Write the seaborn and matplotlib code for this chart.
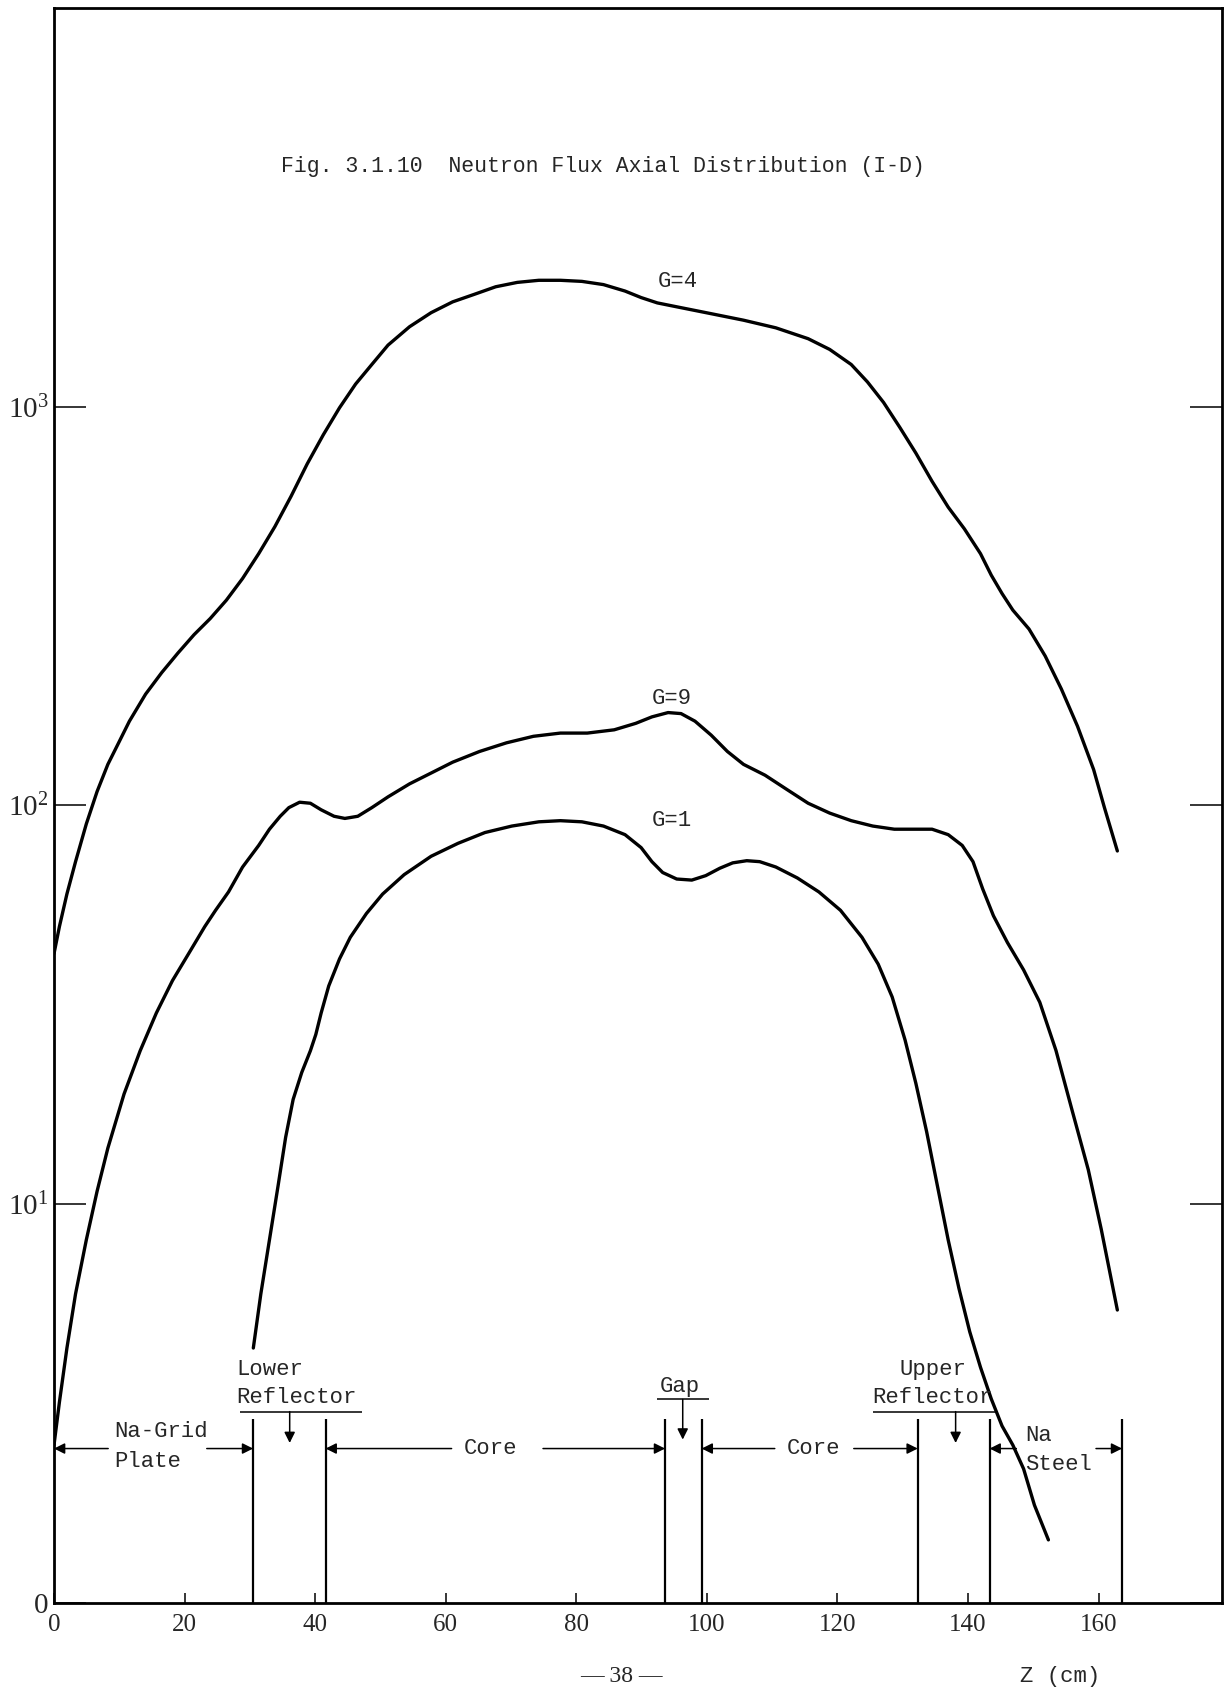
import matplotlib
matplotlib.use('Agg')
import matplotlib.pyplot as plt
import numpy as np
import pandas as pd
import seaborn as sns

# Axial position z (cm) and neutron flux
z_g4 = [0, 0.83, 1.98, 3.30, 4.95, 6.60, 8.25, 9.90, 11.55, 14.03, 16.50, 18.98,
        21.45, 23.93, 26.40, 28.88, 31.35, 33.83, 36.30, 38.78, 41.25, 43.73,
        46.20, 48.68, 51.16, 54.46, 57.76, 61.06, 64.36, 67.66, 70.96, 74.26,
        77.56, 80.86, 84.16, 87.46, 89.93, 92.41, 95.71, 100.66, 105.61, 110.56,
        115.51, 118.81, 122.11, 124.59, 127.06, 129.54, 132.01, 134.49, 136.96,
        139.44, 141.91, 143.56, 145.21, 146.86, 149.34, 151.82, 154.29, 156.77,
        159.24, 160.89, 162.87]
flux_g4 = [42.5, 49.7, 60.0, 72.3, 89.9, 108.4, 126.8, 143.6, 162.7, 190.2, 215.4,
           241.1, 268.1, 294.3, 327.2, 370.8, 428.0, 500.3, 595.7, 718.6, 850.4,
           993.8, 1140, 1276, 1427, 1587, 1721, 1832, 1913, 1999, 2050, 2075,
           2075, 2062, 2024, 1950, 1878, 1821, 1776, 1711, 1648, 1577,
           1481, 1392, 1276, 1154, 1025, 888, 765, 650, 560,
           494, 428, 378, 340, 309, 277, 237, 196, 158,
           123, 98.8, 76.9]

z_g9 = [0, 0.83, 1.98, 3.30, 4.95, 6.60, 8.25, 10.73, 13.20, 15.68, 18.15, 20.63,
        23.10, 24.75, 26.73, 28.88, 31.35, 33.00, 34.65, 35.97, 37.62, 39.27,
        40.92, 42.90, 44.55, 46.53, 48.68, 51.16, 54.46, 57.76, 61.06, 65.18,
        69.31, 73.43, 77.56, 81.68, 85.81, 89.11, 91.58, 94.06, 96.04, 98.18,
        100.66, 103.14, 105.61, 108.91, 112.21, 115.51, 118.81, 122.11, 125.41,
        128.71, 132.01, 134.49, 136.96, 139.11, 140.76, 142.24, 143.89, 146.04,
        148.51, 150.99, 153.47, 155.94, 158.42, 160.40, 161.72, 162.87]
flux_g9 = [2.49, 3.19, 4.36, 5.96, 8.14, 10.78, 13.83, 18.90, 24.26, 30.18, 36.39,
           42.53, 49.71, 54.60, 60.70, 70.07, 79.39, 87.2, 93.96, 98.76, 101.9,
           101.3, 97.54, 93.96, 92.8, 93.96, 98.76, 105.1, 113.3, 120.6, 128.4,
           136.6, 143.6, 149.1, 151.9, 151.9, 154.8, 160.7, 166.8, 171.0, 170.0,
           162.7, 150.1, 136.6, 126.8, 119.1, 109.8, 101.3, 95.7, 91.6, 88.8,
           87.2, 87.2, 87.2, 84.5, 79.4, 72.3, 61.8, 52.9, 45.3,
           38.7, 32.1, 24.3, 17.2, 12.2, 8.66, 6.75, 5.43]

z_g1 = [30.53, 31.68, 33.00, 34.32, 35.48, 36.63, 37.95, 39.27, 40.10, 40.92,
        42.08, 43.73, 45.38, 47.85, 50.33, 53.63, 57.76, 61.88, 66.01, 70.13,
        74.26, 77.56, 80.86, 84.16, 87.46, 89.93, 91.58, 93.23, 95.38, 97.69,
        99.83, 101.98, 103.96, 106.11, 108.09, 110.56, 113.86, 117.16, 120.46,
        123.76, 126.24, 128.38, 130.36, 132.01, 133.66, 135.31, 136.96, 138.61,
        140.26, 141.91, 143.56, 145.21, 146.86, 148.51, 150.17, 152.31]
flux_g1 = [4.36, 5.96, 8.14, 11.12, 14.72, 18.32, 21.41, 24.26, 26.65, 30.18,
           35.27, 41.23, 46.70, 53.58, 59.95, 67.07, 74.58, 80.37, 85.54, 88.8,
           91.0, 91.6, 91.0, 88.8, 84.5, 78.4, 72.3, 67.9, 65.4, 65.0,
           66.7, 69.6, 71.8, 72.7, 72.3, 70.1, 65.8, 60.7, 54.6,
           46.7, 40.0, 33.1, 25.8, 20.1, 15.2, 11.12, 8.14, 6.15,
           4.79, 3.90, 3.25, 2.78, 2.49, 2.17, 1.76, 1.44]

groups = ['G=4', 'G=9', 'G=1']

# region boundaries along z (cm)
boundaries = [30.5, 41.6, 93.6, 99.2, 132.3, 143.3, 163.6]

x_ticks = [0, 20, 40, 60, 80, 100, 120, 140, 160]
y_ticks = [1, 10, 100, 1000]
y_labels = ['0', r'$\mathrm{10^1}$', r'$\mathrm{10^2}$', r'$\mathrm{10^3}$']

curves = pd.concat([
    pd.DataFrame({'z': z_g4, 'flux': flux_g4, 'group': 'G=4'}),
    pd.DataFrame({'z': z_g9, 'flux': flux_g9, 'group': 'G=9'}),
    pd.DataFrame({'z': z_g1, 'flux': flux_g1, 'group': 'G=1'}),
])

sns.set_style('ticks')
plt.rcParams['font.family'] = ['Liberation Mono', 'DejaVu Sans']
plt.rcParams['mathtext.fontset'] = 'custom'
plt.rcParams['mathtext.rm'] = 'Liberation Serif'

fig = plt.figure(figsize=(12.3, 16.89), dpi=100)
ax = fig.add_axes([0.0439, 0.0509, 0.9496, 0.9444])
ax.set_yscale('log')

for g in groups:
    sns.lineplot(data=curves[curves['group'] == g], x='z', y='flux',
                 color='black', lw=2.4, sort=False, estimator=None, ax=ax)

ax.set_xlim(0, 178.9)
ax.set_ylim(1, 1e4)
ax.set_xlabel('')
ax.set_ylabel('')

ax.set_xticks(x_ticks)
ax.set_xticklabels([str(t) for t in x_ticks], family='Liberation Serif', fontsize=18)
ax.set_yticks(y_ticks)
ax.set_yticklabels(y_labels, family='Liberation Serif', fontsize=21)
ax.yaxis.set_minor_locator(matplotlib.ticker.NullLocator())
ax.xaxis.set_minor_locator(matplotlib.ticker.NullLocator())
ax.tick_params(axis='x', direction='in', length=7, width=1.3, pad=8)
ax.tick_params(axis='y', direction='in', length=23, width=1.3, pad=4,
               left=True, right=True)
for s in ax.spines.values():
    s.set_linewidth(2.0)
    s.set_color('black')

# region boundary lines at the bottom
ax.vlines(boundaries, 1, 2.9, color='black', lw=1.6)

# group labels
ax.text(95.6, 2056, 'G=4', ha='center', va='center', fontsize=16)
ax.text(94.6, 186, 'G=9', ha='center', va='center', fontsize=16)
ax.text(94.6, 91.6, 'G=1', ha='center', va='center', fontsize=16)

ax.text(84.1, 4000, 'Fig. 3.1.10  Neutron Flux Axial Distribution (I-D)',
        ha='center', va='center', fontsize=15.5)

arrow = dict(arrowstyle='-|>', color='black', lw=1.1, mutation_scale=16,
             shrinkA=0, shrinkB=0)
y_arr = 2.44


def span(x_from, x_to, y=y_arr):
    ax.annotate('', xy=(x_to, y), xytext=(x_from, y), arrowprops=arrow)


fs = 16
# Na-Grid plate
ax.text(9.3, 2.69, 'Na-Grid', ha='left', va='center', fontsize=fs)
ax.text(9.3, 2.26, 'Plate', ha='left', va='center', fontsize=fs)
span(8.3, 0)
span(23.4, 30.5)

# lower reflector
ax.text(27.9, 3.85, 'Lower', ha='left', va='center', fontsize=fs)
ax.text(27.9, 3.27, 'Reflector', ha='left', va='center', fontsize=fs)
ax.hlines(3.02, 28.5, 47.2, color='black', lw=1.1)
ax.annotate('', xy=(36.1, 2.52), xytext=(36.1, 3.02), arrowprops=arrow)

# lower core
ax.text(66.9, y_arr, 'Core', ha='center', va='center', fontsize=fs)
span(60.9, 41.6)
span(74.9, 93.6)

# gap
ax.text(95.8, 3.5, 'Gap', ha='center', va='center', fontsize=fs)
ax.hlines(3.24, 92.3, 100.3, color='black', lw=1.1)
ax.annotate('', xy=(96.3, 2.57), xytext=(96.3, 3.24), arrowprops=arrow)

# upper core
ax.text(116.3, y_arr, 'Core', ha='center', va='center', fontsize=fs)
span(110.4, 99.2)
span(122.5, 132.3)

# upper reflector
ax.text(134.6, 3.85, 'Upper', ha='center', va='center', fontsize=fs)
ax.text(134.6, 3.27, 'Reflector', ha='center', va='center', fontsize=fs)
ax.hlines(3.02, 125.4, 144.6, color='black', lw=1.1)
ax.annotate('', xy=(138.1, 2.52), xytext=(138.1, 3.02), arrowprops=arrow)

# Na / steel
ax.text(148.7, 2.63, 'Na', ha='left', va='center', fontsize=fs)
ax.text(148.7, 2.22, 'Steel', ha='left', va='center', fontsize=fs)
span(147.4, 143.3)
span(159.6, 163.6)

fig.text(0.505, 0.0075, '\u2014 38 \u2014', ha='center', va='center',
         family='Liberation Serif', fontsize=17)
fig.text(0.862, 0.0075, 'Z (cm)', ha='center', va='center', fontsize=16)

fig.savefig('out.png', dpi=100)
